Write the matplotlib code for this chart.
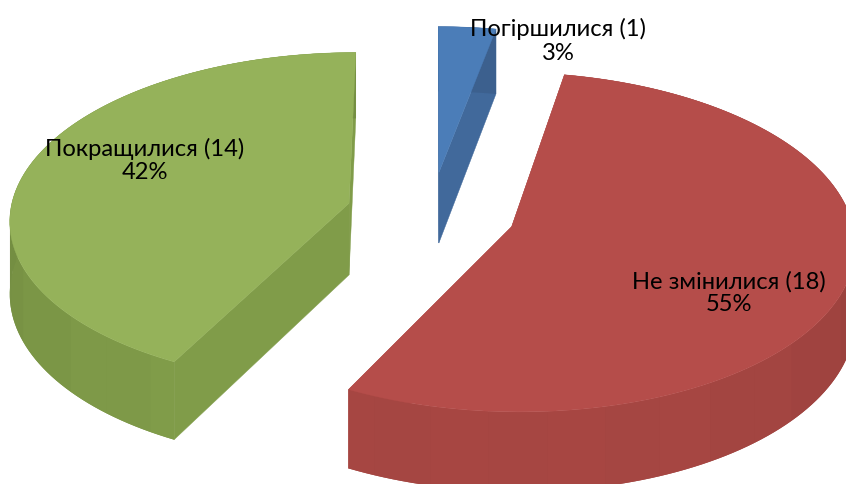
import numpy as np
import matplotlib
matplotlib.use('Agg')
import matplotlib.pyplot as plt
from matplotlib.patches import Polygon

# slices, clockwise from 12 o'clock
names = ['Погіршилися', 'Не змінилися', 'Покращилися']
values = [1, 18, 14]

top_colors = ['#4b7db8', '#b54d4a', '#95b25a']
wall_colors = ['#41699b', '#a64642', '#809c49']

plt.rcParams['font.family'] = ['Lato', 'Open Sans', 'DejaVu Sans']

# view of the tilted disc, in pixels
cx, cy = 431, 213
rx, ry = 339, 166
depth = 72
persp = 0.09
explode = 0.25


def project(X, Y, Z=0):
    s = 1 / (1 + persp * Y)
    return cx + rx * X * s, cy - ry * Y * s + depth * Z * s


def shade(color, f):
    return tuple(min(1, c * f) for c in matplotlib.colors.to_rgb(color))


fig = plt.figure(figsize=(8.46, 4.84), dpi=100)
ax = fig.add_axes([0, 0, 1, 1])
ax.set_xlim(0, 846)
ax.set_ylim(484, 0)
ax.axis('off')

total = sum(values)
edges = np.cumsum([0] + values) / total * 2 * np.pi
label_xy = [(558, 41), (729, 293), (145, 160.5)]

# far slices first
for i in [0, 2, 1]:
    a0, a1 = edges[i], edges[i + 1]
    mid = (a0 + a1) / 2
    ox, oy = explode * np.sin(mid), explode * np.cos(mid)
    th = np.linspace(a0, a1, int(np.degrees(a1 - a0) / 1.5) + 2)
    X = ox + np.sin(th)
    Y = oy + np.cos(th)

    # straight cut walls
    for a in (a0, a1):
        pts = [project(ox, oy), project(ox + np.sin(a), oy + np.cos(a)),
               project(ox + np.sin(a), oy + np.cos(a), 1), project(ox, oy, 1)]
        ax.add_patch(Polygon(pts, fc=wall_colors[i], ec=wall_colors[i], lw=0.3))

    # curved wall: one piece underneath so the bands leave no seams
    pts = [project(x, y) for x, y in zip(X, Y)] + [project(x, y, 1) for x, y in zip(X[::-1], Y[::-1])]
    ax.add_patch(Polygon(pts, fc=shade(wall_colors[i], 0.97), lw=0))

    # bands of slightly different shade like the original
    bands = np.round(np.degrees(th) / 9).astype(int)
    for b in np.unique(bands):
        idx = np.where(bands == b)[0]
        idx = np.append(idx, min(idx[-1] + 1, len(th) - 1))
        f = 0.91 + 0.09 * max(0, np.cos(np.radians(b * 9) - np.pi)) + 0.008 * (b % 2)
        pts = [project(X[j], Y[j]) for j in idx] + [project(X[j], Y[j], 1) for j in idx[::-1]]
        ax.add_patch(Polygon(pts, fc=shade(wall_colors[i], f), lw=0))

    # top face
    pts = [project(ox, oy)] + [project(x, y) for x, y in zip(X, Y)]
    ax.add_patch(Polygon(pts, fc=top_colors[i], ec=top_colors[i], lw=0.3))

for i in range(len(values)):
    pct = round(100 * values[i] / total)
    ax.text(label_xy[i][0], label_xy[i][1], '%s (%d)\n%d%%' % (names[i], values[i], pct),
            ha='center', va='center', fontsize=17.1, color='black', linespacing=1.13)

fig.savefig('out.png', dpi=100)
